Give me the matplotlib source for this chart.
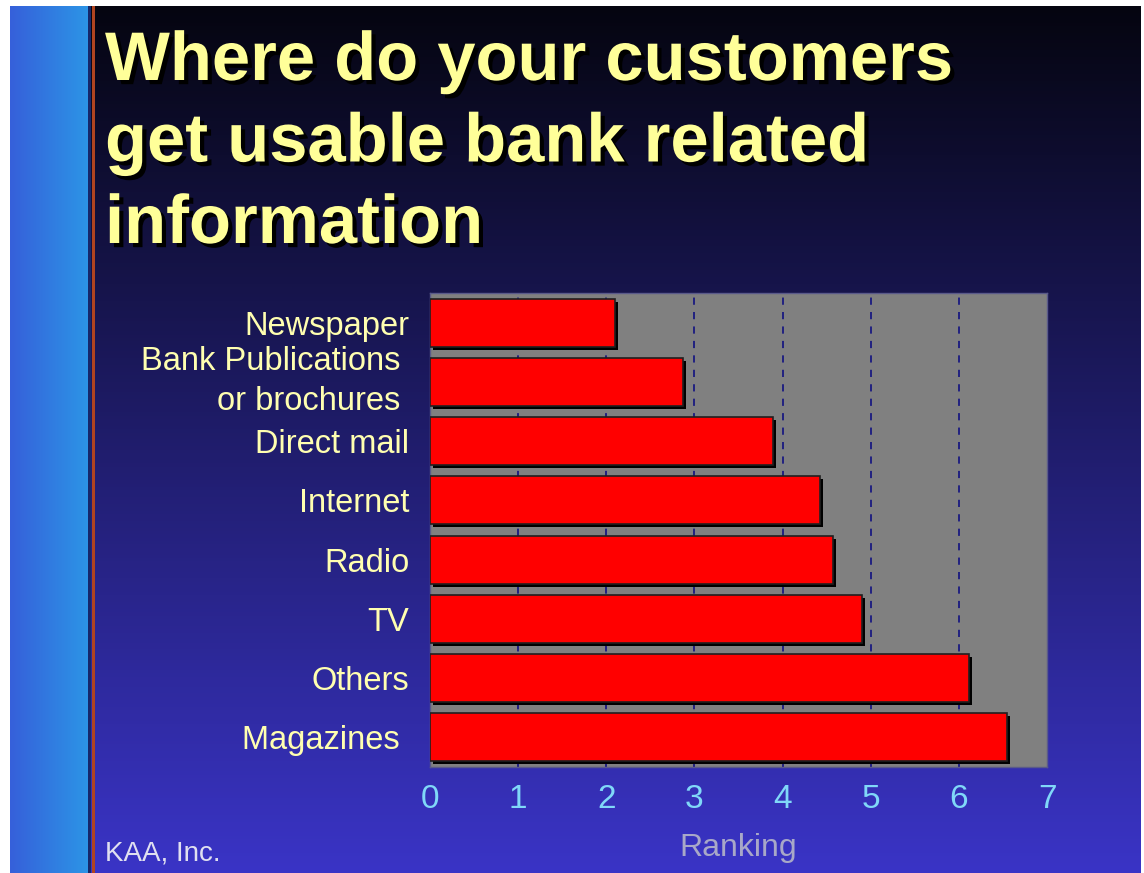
#!/usr/bin/env python3
"""
横向条形图：客户获取银行相关信息的渠道排名
"""

import numpy as np
import matplotlib
matplotlib.use("Agg")
import matplotlib.pyplot as plt
import matplotlib.patheffects as pe
from matplotlib.colors import LinearSegmentedColormap

# 数据
categories = ["Newspaper", "Bank Publications \nor brochures ", "Direct mail", "Internet",
              "Radio", "TV", "Others", "Magazines "]
rankings = [2.1, 2.87, 3.89, 4.42, 4.57, 4.9, 6.12, 6.55]
x_ticks = [0, 1, 2, 3, 4, 5, 6, 7]
grid_x = [1, 2, 3, 4, 5, 6]

title_lines = ["Where do your customers", "get usable bank related", "information"]

plt.rcParams['font.family'] = ['Liberation Sans', 'DejaVu Sans']

W, H = 1144, 873
fig = plt.figure(figsize=(W / 100, H / 100), dpi=100, facecolor="white")

# 背景：从上到下由黑到蓝的渐变
bg = fig.add_axes([10 / W, 0, 1131 / W, 867 / H])
bg.set_axis_off()
bg_cmap = LinearSegmentedColormap.from_list("bg", ["#050510", "#3a34c6"])
bg.imshow(np.linspace(0, 1, 256).reshape(-1, 1), aspect="auto", cmap=bg_cmap,
          extent=[0, 1, 0, 1], origin="upper")
bg.set_xlim(0, 1)
bg.set_ylim(0, 1)

# 左侧蓝色竖条
strip = fig.add_axes([10 / W, 0, 78 / W, 867 / H])
strip.set_axis_off()
strip_cmap = LinearSegmentedColormap.from_list("strip", ["#3660da", "#2c94e6"])
strip.imshow(np.linspace(0, 1, 64).reshape(1, -1), aspect="auto", cmap=strip_cmap,
             extent=[0, 1, 0, 1])
fig.add_artist(plt.Rectangle((88 / W, 0), 3 / W, 867 / H, transform=fig.transFigure,
                             color="#16286a", lw=0))
fig.add_artist(plt.Rectangle((92 / W, 0), 3 / W, 867 / H, transform=fig.transFigure,
                             color="#b04420", lw=0))

# 标题（逐行放置，带黑色阴影）
title_shadow = [pe.withSimplePatchShadow(offset=(3, -3), shadow_rgbFace="black", alpha=1.0)]
for i, line in enumerate(title_lines):
    fig.text(105 / W, 1 - (80 + 81.5 * i) / H, line, color="#ffff99", fontsize=49.5,
             fontweight="bold", va="baseline", ha="left", path_effects=title_shadow)

# 主图
ax = fig.add_axes([430 / W, 1 - 767 / H, 617 / W, 474 / H])
ax.set_facecolor("#808080")
y = np.arange(len(categories))
ax.barh(y, rankings, height=0.81, color="#ff0000", edgecolor="#202020", linewidth=1.2,
        zorder=3,
        path_effects=[pe.SimplePatchShadow(offset=(2.2, -2.2), shadow_rgbFace="black",
                                           alpha=1.0), pe.Normal()])
for gx in grid_x:
    ax.axvline(gx, color="#1a1a80", linestyle=(0, (4, 4)), linewidth=1.3, zorder=1)

ax.set_xlim(0, 7)
ax.set_ylim(len(categories) - 0.5, -0.5)
ax.set_xticks(x_ticks)
ax.set_xticklabels([str(t) for t in x_ticks], color="#80d8f8", fontsize=24)
ax.set_yticks(y)
ax.set_yticklabels(categories, color="#ffffb0", fontsize=23.5, linespacing=1.38)
for lbl in ax.get_yticklabels():
    if "\n" in lbl.get_text():
        lbl.set_va("center")
ax.tick_params(axis="both", length=0)
ax.tick_params(axis="x", pad=12)
ax.tick_params(axis="y", pad=15)
for s in ax.spines.values():
    s.set_color("#5a5a8a")
    s.set_linewidth(1)

ax.set_xlabel("Ranking", color="#a8a8c8", fontsize=23, labelpad=13)

fig.text(105 / W, 1 - 861 / H, "KAA, Inc.", color="#e0e0f0", fontsize=20,
         ha="left", va="baseline")

fig.savefig("out.png", dpi=100, facecolor="white")
